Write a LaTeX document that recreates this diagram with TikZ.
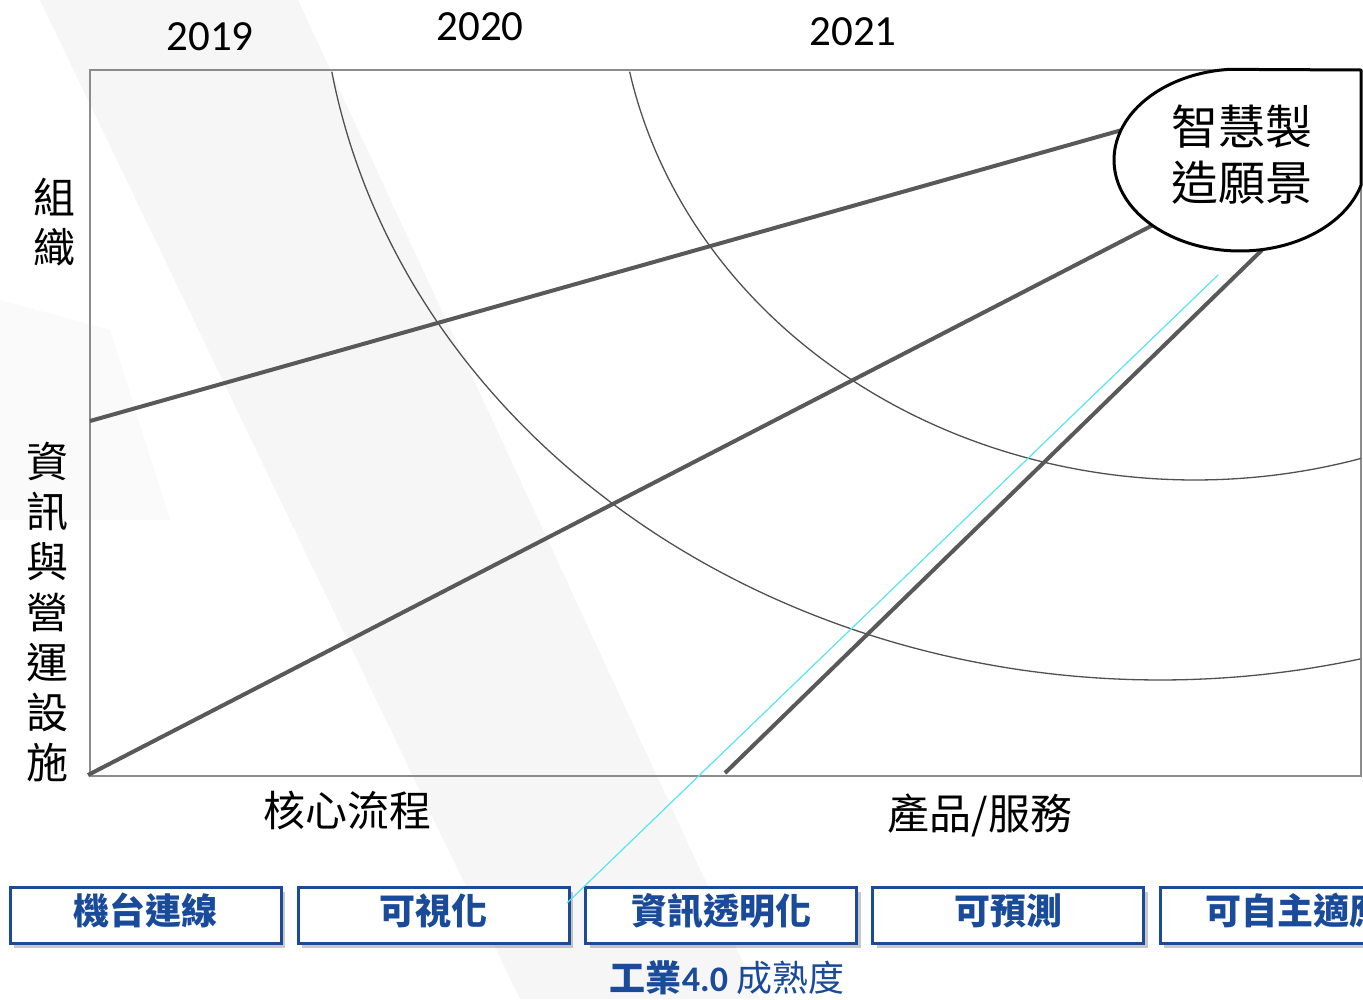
\documentclass[tikz,border=0pt]{standalone}
\usepackage{fontspec}
\usetikzlibrary{shadows}
\newfontfamily\cjk{Noto Sans CJK TC}
\newfontfamily\lat{Carlito}
\definecolor{framegray}{HTML}{8C8C8C}
\definecolor{linegray}{HTML}{595959}
\definecolor{arcgray}{HTML}{505050}
\definecolor{boxblue}{HTML}{1A4A9A}
\definecolor{cyanline}{HTML}{55E6F2}
\definecolor{bandgray}{HTML}{F6F6F6}
\begin{document}
\begin{tikzpicture}[x=1pt,y=-1pt,
  yearlabel/.style={font=\lat\fontsize{43}{48}\selectfont, inner sep=0},
  axislabel/.style={font=\cjk\fontsize{42}{50.3}\selectfont, inner sep=0, align=center},
  stagebox/.style={draw=boxblue, line width=3pt, fill=white, minimum width=271pt, minimum height=56pt, inner sep=0, text height=30pt, text depth=12pt, text=boxblue, font=\cjk\bfseries\fontsize{36}{40}\selectfont, drop shadow={shadow xshift=4pt, shadow yshift=-5pt, opacity=0.3, fill=black!70}},
  pathline/.style={draw=linegray, line width=4pt},
  ring/.style={draw=arcgray, line width=1.3pt}
]
\useasboundingbox (0,0) rectangle (1363,999);
\fill[white] (0,0) rectangle (1363,999);
% faint background bands
\fill[bandgray] (40,0) -- (298,0) -- (760,999) -- (520,999) -- cycle;
\fill[bandgray!60] (0,300) -- (110,330) -- (170,520) -- (0,520) -- cycle;
% frame
\draw[framegray, line width=2pt] (90,70) rectangle (1361,776);
% rings
\draw[ring] plot[domain=76.2:170.4, samples=120, smooth] ({1160+840*cos(\x)},{-50+730*sin(\x)});
\draw[ring] plot[domain=73.3:168.5, samples=120, smooth] ({1195+577*cos(\x)},{-30+510*sin(\x)});
% coordinates
\coordinate (a0) at (90,421);
\coordinate (a1) at (1122,130);
\coordinate (b0) at (88,775);
\coordinate (b1) at (1155,224);
\coordinate (c0) at (725,773);
\coordinate (c1) at (1262,250);
\coordinate (d0) at (1218,275);
\coordinate (d1) at (567,903);
% paths
\draw[pathline] (a0) -- (a1);
\draw[pathline] (b0) -- (b1);
\draw[pathline] (c0) -- (c1);
% vision shape
\filldraw[fill=white, draw=black, line width=3pt, line join=round]
  plot[domain=16:265, samples=90, smooth] ({1240+126*cos(\x)},{160+91*sin(\x)}) -- (1361,70) -- cycle;
\node[axislabel, font=\cjk\fontsize{47}{56}\selectfont] (vision) at (1242,155) {智慧製\\造願景};
% year labels
\node[yearlabel] (y2019) at (210,37) {2019};
\node[yearlabel] (y2020) at (480,27) {2020};
\node[yearlabel] (y2021) at (853,32) {2021};
% axis labels
\node[axislabel] (org) at (55,222) {組\\織};
\node[axislabel] (infra) at (48,612) {資\\訊\\與\\營\\運\\設\\施};
\node[axislabel] (core) at (347,810) {核心流程};
\node[axislabel] (prod) at (980,815) {產品/服務};
% stages
\node[stagebox] (s1) at (145.5,915) {機台連線};
\node[stagebox] (s2) at (433.5,915) {可視化};
\node[stagebox] (s3) at (721,915) {資訊透明化};
\node[stagebox] (s4) at (1008,915) {可預測};
\node[stagebox] (s5) at (1295.5,915) {可自主適應};
\draw[cyanline, line width=1.2pt] (d0) -- (d1);
\node[text=boxblue, inner sep=0, font=\cjk\fontsize{36}{40}\selectfont] (title) at (727,978) {{\bfseries 工業}{\lat\bfseries 4.0} 成熟度};
\end{tikzpicture}
\end{document}
